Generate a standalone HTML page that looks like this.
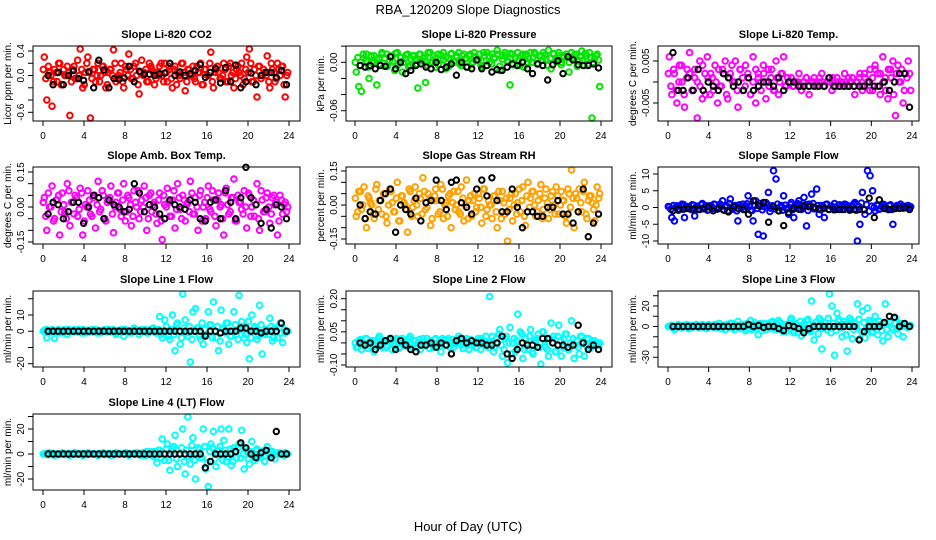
<!DOCTYPE html>
<html><head><meta charset="utf-8">
<style>
html,body{margin:0;padding:0;background:#fff;}
svg{display:block;font-family:"Liberation Sans",Arial,sans-serif;}
</style></head>
<body>
<svg id="chart" width="936" height="540" viewBox="0 0 936 540" xmlns="http://www.w3.org/2000/svg">
<text x="468" y="14" text-anchor="middle" font-size="13">RBA_120209  Slope Diagnostics</text>
<text x="468" y="531" text-anchor="middle" font-size="13">Hour of Day (UTC)</text>
</svg>
<script>
// ---- data (values read/estimated from the reference) ----
const hourTicks = [0,4,8,12,16,20,24];
const titles = ["Slope Li-820 CO2","Slope Li-820 Pressure","Slope Li-820 Temp.","Slope Amb. Box Temp.","Slope Gas Stream RH","Slope Sample Flow","Slope Line 1 Flow","Slope Line 2 Flow","Slope Line 3 Flow","Slope Line 4 (LT) Flow"];
const yTitles = ["Licor ppm per min.","kPa per min.","degrees C  per min.","degrees C per min.","percent per min.","ml/min per min.","ml/min per min.","ml/min per min.","ml/min per min.","ml/min per min."];
const colors = ["#ff0000","#00e600","#ff00ff","#ff00ff","#ffa000","#0000ff","#00ffff","#00ffff","#00ffff","#00ffff"];

const co2Vals = [0.3,-0.4,0.05,-0.5,0.1,-0.1,0.2,-0.15,0.0,0.15,-0.65,0.1,-0.05,0.25,0.45,-0.2,0.05,0.3,-0.75,0.1,-0.1,0.2,0.0,0.15,-0.2,0.05,0.1,0.42,-0.1,0.0,0.2,-0.2,0.1,0.35,-0.05,0.15,0.0,-0.3,0.25,0.05,-0.1,0.2,0.1,-0.15,0.05,0.15,0.0,0.2,-0.1,0.1,-0.2,0.15,0.05,-0.05,0.2,-0.25,0.1,0.0,0.15,-0.1,0.05,0.2,-0.15,0.1,0.0,0.38,-0.2,0.1,0.05,-0.05,0.2,-0.1,0.15,0.0,-0.2,0.1,0.05,0.2,-0.05,0.3,0.45,-0.1,0.1,-0.35,0.15,0.0,0.05,0.32,-0.2,0.1,-0.1,0.2,0.0,0.15,-0.35,0.05];
const co2Core = [0.1,-0.05,0.15,0.0,-0.1,0.05,0.2,-0.15,0.1,0.0,0.05,-0.1,0.15,-0.05,0.0,0.1,-0.15,0.2,0.05,-0.05,0.1,0.0,-0.1,0.15,0.05,-0.15,0.1,0.0,0.2,-0.05,0.05,-0.1,0.15,0.0,0.1,-0.05,0.2,-0.15,0.05,0.0,0.1,-0.1,0.15,0.05,-0.05,0.0,0.2,-0.1,0.05,0.15,-0.05,0.1,-0.15,0.0,0.2,0.05,-0.1,0.1,0.0,-0.05,0.15,0.05,-0.15,0.1,0.0,0.2,-0.1,0.05,0.15,-0.05,0.0,0.1,-0.1,0.2,0.05,-0.05,0.15,0.0,-0.15,0.1,0.05,0.2,-0.1,0.0,0.15,-0.05,0.1,0.0,-0.1,0.2,0.05,-0.05,0.1,0.15,-0.15,0.0];
const co2Black = [0.0,-0.15,0.05,-0.15,0.0,0.08,-0.05,-0.08,0.06,-0.2,0.25,0.09,-0.2,-0.05,-0.06,-0.04,0.15,-0.1,0.07,0.02,0.02,0.0,0.03,0.04,0.2,0.0,0.06,0.0,0.03,0.08,0.18,-0.03,0.05,0.12,-0.12,0.13,-0.1,0.17,-0.2,-0.1,0.04,-0.15,0.0,0.05,0.05,-0.03,0.08,-0.15];

const presVals = [-0.012,-0.03,-0.036,0.005,0.01,-0.02,0.0,0.008,-0.028,0.005,0.012,-0.005,0.01,0.002,0.008,-0.01,0.012,0.0,-0.012,0.005,0.01,-0.004,0.008,0.003,-0.032,0.01,0.005,-0.025,0.012,0.0,0.008,-0.006,0.01,0.004,0.012,-0.008,0.005,0.01,0.0,0.008,0.012,-0.004,0.01,0.005,0.008,-0.002,0.012,0.003,0.01,-0.006,0.008,0.012,0.0,0.01,0.005,0.015,-0.01,0.008,0.012,0.002,-0.028,0.01,0.005,0.012,-0.004,0.01,0.008,0.0,0.012,0.006,0.01,-0.002,0.008,0.012,0.004,0.015,-0.008,0.01,0.005,0.012,0.0,0.008,0.01,-0.012,0.012,0.005,0.01,0.002,0.014,-0.004,0.008,0.012,-0.078,0.005,0.01,-0.03];
const presCore = [0.0,0.006,-0.004,0.01,0.002,-0.006,0.008,0.0,0.004,-0.002,0.01,0.005,-0.005,0.007,0.001,0.011,-0.003,0.006,0.0,0.009,-0.006,0.004,0.008,-0.002,0.01,0.002,0.006,-0.004,0.012,0.0,0.005,-0.003,0.009,0.003,0.007,-0.005,0.011,0.001,0.006,-0.002,0.008,0.004,-0.006,0.01,0.0,0.007,0.003,-0.004,0.012,0.002,0.008,-0.002,0.006,0.01,-0.005,0.004,0.009,0.0,0.011,-0.003,0.006,0.002,0.008,-0.006,0.01,0.004,0.0,0.012,-0.002,0.007,0.003,0.009,-0.004,0.005,0.011,0.001,0.008,-0.003,0.006,0.01,0.0,0.004,0.009,-0.005,0.007,0.002,0.011,-0.002,0.006,0.0,0.008,0.003];
const presBlack = [-0.004,-0.006,-0.004,-0.008,-0.004,-0.005,0.007,-0.008,0.0,-0.014,-0.01,-0.004,-0.002,-0.006,-0.008,0.0,-0.009,-0.006,-0.002,-0.016,0.0,-0.006,-0.008,0.003,-0.008,-0.004,-0.012,-0.009,-0.01,-0.006,-0.002,-0.004,0.0,-0.008,-0.014,-0.002,-0.004,-0.022,-0.003,0.002,-0.014,0.007,0.003,-0.003,-0.004,-0.004,-0.002,-0.007];

const licTempVals = [0.006,-0.003,0.002,-0.005,0.004,0.0,-0.006,0.003,0.007,-0.002,0.001,-0.01,0.005,-0.004,0.002,0.006,-0.003,0.001,0.004,-0.005,-0.001,0.003,0.005,-0.004,0.002,0.0,0.005,-0.006,0.003,-0.002,0.004,0.001,-0.003,0.006,-0.005,0.002,0.0,0.004,-0.004,0.003,0.001,-0.002,0.005,-0.003,0.002,0.006,-0.001,0.0,0.001,-0.001,0.0,0.002,-0.002,0.0,0.001,-0.003,0.0,0.001,-0.001,0.0,0.002,-0.001,0.0,0.001,-0.002,0.0,0.001,-0.001,0.0,0.002,-0.001,0.0,0.001,-0.003,0.0,0.002,-0.002,0.001,0.0,0.003,-0.002,0.004,0.002,-0.003,0.006,0.001,-0.004,0.003,0.005,-0.008,0.004,0.0,-0.005,0.002,0.005,-0.002];
const licTempCore = [0.002,-0.001,0.003,-0.002,0.0,0.004,-0.003,0.001,0.002,-0.002,0.003,0.0,-0.001,0.004,-0.003,0.001,0.002,-0.002,0.0,0.003,-0.001,0.002,-0.003,0.001,0.004,0.0,-0.002,0.003,0.001,-0.001,0.002,-0.003,0.0,0.003,0.001,-0.002,0.002,0.0,-0.001,0.003,-0.002,0.001,0.0,0.002,-0.001,0.001,0.0,-0.001,0.0,0.0,-0.001,0.0,0.001,-0.001,0.0,0.0,-0.001,0.001,0.0,-0.001,0.0,0.0,0.001,-0.001,0.0,0.0,-0.001,0.0,0.001,0.0,-0.001,0.0,0.001,-0.001,0.002,0.0,-0.002,0.001,0.003,-0.001,0.002,0.0,-0.002,0.003,0.001,-0.003,0.002,0.0,0.003,-0.002,0.001,0.002];
const licTempBlack = [0.007,-0.002,-0.002,0.001,-0.002,0.003,-0.002,0.0,-0.001,-0.002,0.002,0.001,-0.001,0.0,-0.002,0.001,-0.002,-0.001,0.0,0.0,-0.001,0.001,-0.002,0.0,0.0,-0.001,-0.001,-0.001,-0.001,-0.001,-0.001,0.001,-0.001,-0.001,-0.001,-0.001,-0.001,-0.001,-0.001,0.0,-0.001,-0.001,0.0,-0.002,0.0,0.002,0.002,-0.006];

const ambVals = [0.04,-0.1,0.0,0.09,-0.05,0.03,-0.12,0.06,-0.02,0.1,-0.08,0.02,0.05,-0.04,0.08,-0.12,0.01,0.07,-0.03,0.04,-0.09,0.11,-0.01,0.05,-0.06,0.03,0.09,-0.11,0.02,0.06,-0.04,0.1,-0.02,0.04,-0.08,0.07,0.0,-0.05,0.03,0.09,-0.1,0.05,-0.02,0.02,-0.07,0.06,-0.14,0.01,0.08,-0.04,0.03,-0.09,0.1,-0.01,0.05,-0.06,0.02,0.11,-0.03,0.04,-0.1,0.07,0.0,-0.05,0.09,-0.02,0.03,-0.08,0.06,0.01,-0.12,0.08,-0.03,0.04,0.12,-0.06,0.02,-0.01,0.07,-0.09,0.05,0.0,-0.04,0.1,-0.1,0.03,-0.02,0.06,-0.07,0.04,0.01,-0.12,0.05,-0.03,0.02,0.0];
const ambCore = [0.02,-0.04,0.06,0.0,-0.06,0.03,0.05,-0.02,0.01,-0.05,0.07,0.02,-0.03,0.04,-0.01,0.06,-0.06,0.0,0.03,-0.04,0.05,0.01,-0.02,0.07,-0.05,0.02,0.04,-0.03,0.0,0.06,-0.01,0.03,-0.06,0.05,0.01,-0.04,0.02,0.07,-0.02,0.0,0.04,-0.05,0.06,0.01,-0.03,0.03,-0.06,0.05,0.0,0.02,-0.04,0.07,-0.01,0.04,-0.05,0.03,0.01,-0.02,0.06,-0.03,0.0,0.05,-0.06,0.02,0.04,-0.01,0.07,-0.04,0.03,0.0,-0.05,0.06,0.01,-0.02,0.04,-0.06,0.05,0.02,-0.03,0.0,0.06,-0.04,0.03,0.01,-0.05,0.07,-0.02,0.04,0.0,-0.03,0.05,0.02,-0.06,0.03,0.01,-0.02];
const ambBlack = [-0.03,0.02,0.01,-0.05,-0.02,0.02,0.02,-0.07,0.0,0.05,0.04,-0.05,0.03,0.01,0.0,-0.02,-0.01,0.1,0.06,-0.02,0.01,0.0,-0.03,-0.05,0.03,0.01,0.0,-0.01,0.03,0.02,-0.05,-0.06,0.02,0.03,-0.05,0.07,0.02,-0.05,0.04,0.17,0.04,0.01,-0.07,-0.01,-0.09,0.01,0.0,-0.05];

const rhVals = [-0.05,0.06,-0.02,0.08,-0.1,0.03,0.0,-0.06,0.09,0.02,-0.04,0.05,-0.08,0.07,0.01,-0.03,0.1,-0.07,0.04,0.0,-0.12,0.06,-0.01,0.08,-0.05,0.03,0.12,-0.02,0.05,-0.09,0.02,0.07,-0.04,0.09,-0.06,0.01,0.04,-0.1,0.06,0.0,-0.03,0.08,-0.07,0.11,0.02,-0.05,0.05,-0.01,0.03,-0.08,0.07,-0.02,0.0,-0.06,0.04,-0.1,0.02,0.06,-0.04,-0.17,0.03,-0.07,0.05,0.01,-0.03,0.08,-0.09,0.1,0.03,0.06,-0.05,0.02,0.09,-0.02,0.07,-0.06,0.04,0.0,0.08,-0.04,0.06,0.02,-0.08,0.05,0.16,-0.1,0.03,0.07,-0.03,0.1,-0.06,0.04,0.01,-0.07,0.08,0.05];
const rhCore = [0.03,-0.03,0.06,0.0,-0.06,0.04,0.01,-0.04,0.07,-0.02,0.02,0.05,-0.05,0.0,0.06,-0.03,0.03,-0.07,0.04,0.01,-0.02,0.07,-0.05,0.02,0.0,0.05,-0.04,0.06,-0.01,0.03,-0.06,0.04,0.02,-0.03,0.07,0.0,-0.05,0.05,0.01,-0.02,0.06,-0.04,0.03,0.0,-0.06,0.04,0.02,-0.03,0.05,-0.01,0.07,-0.05,0.02,0.0,0.04,-0.03,0.06,-0.06,0.01,0.03,-0.02,0.05,0.0,-0.04,0.07,0.02,-0.05,0.04,-0.01,0.06,0.0,-0.03,0.05,-0.06,0.03,0.01,-0.02,0.06,-0.04,0.04,0.0,0.02,-0.05,0.07,-0.01,0.03,0.05,-0.03,0.01,0.06,-0.04,0.02,0.04,-0.02,0.0,0.03];
const rhBlack = [0.0,-0.06,-0.03,-0.04,0.02,0.05,0.07,-0.12,0.0,-0.02,-0.04,0.03,-0.07,0.01,0.02,0.11,0.02,-0.02,0.1,0.11,0.01,-0.01,-0.04,0.07,0.11,0.04,0.12,0.02,-0.03,-0.03,0.07,-0.01,-0.1,-0.03,-0.03,-0.05,-0.05,-0.01,-0.01,0.02,-0.04,-0.04,-0.08,-0.03,0.07,-0.14,-0.08,-0.04];

const sampleVals = [0.2,-3,-4,0.5,-0.5,1,-3,0.3,-0.2,0.8,-2.5,0.4,-0.6,1.2,0.0,-0.8,0.5,-0.3,0.9,-0.4,1,2,0.3,-1,2.5,-0.5,0.6,-4,0.2,1,0.5,3.5,-0.8,-4,2,-8,0.4,-8.5,1.5,4.5,-0.2,11,8.5,-1,0.6,3.5,-0.3,-2,1.5,-3,0.8,2,-0.6,3,-5.5,1,4,-0.4,5.5,-2,0.6,-3,1,-0.5,0.4,1.2,-0.3,0.8,-0.6,1,0.3,-0.8,0.5,1.5,-10,-5,4.5,-2,11,9.5,5,-1,0.6,-0.4,1,0.2,-0.6,0.8,-5,-0.3,0.5,1,-0.2,0.4,0.6,0.2];
const sampleCore = [0.3,-0.5,0.6,0.0,-0.8,0.4,0.9,-0.3,0.1,-0.6,0.7,0.2,-0.4,0.8,-0.1,0.5,-0.7,0.3,1.0,-0.5,0.0,0.6,-0.8,0.4,1.2,-0.2,0.5,-1.0,0.8,0.0,-0.6,1.1,0.3,-0.9,0.6,-0.3,1.2,-0.7,0.2,0.9,-1.2,0.5,-0.4,1.0,0.1,-0.8,0.7,-0.2,0.9,-0.6,0.3,1.1,-0.4,0.0,0.8,-0.9,0.5,1.2,-0.3,0.6,-0.7,0.2,0.9,-0.5,0.4,0.0,-0.6,0.7,0.2,-0.4,0.8,-0.1,0.5,1.0,-0.8,0.3,1.3,-0.6,0.9,-1.1,0.4,0.0,0.7,-0.5,0.3,0.8,-0.3,0.5,-0.6,0.2,0.6,-0.2,0.4,0.0,0.3,-0.1];
const sampleBlack = [-1,-0.5,-0.5,-0.3,-0.5,-0.6,-0.4,0.2,-1,-0.4,-0.7,-1.3,0.3,-0.3,-0.6,-2,2,0.5,1.5,-4.4,0.3,-1,-5.4,-1.5,-0.2,-0.5,0.5,0.2,0.1,-0.3,-0.2,-0.6,-0.7,-0.6,-0.6,-0.5,-0.6,-0.6,-0.7,2.8,-3,2.3,-0.3,-0.6,-0.3,-0.2,-0.1,-0.6];

const line1Vals = [0.5,-4,0,1,-4.5,0.5,-1,0,1,-2,0.5,0,1,-0.5,0,1,-1,0.5,0,-0.5,1,0,-1,0.5,0,1,-0.5,0.5,-2,0,1,-3,0.5,0,-1,2,0,-2,1,0.5,-1,0,1.5,0,-0.5,9,-4,7,0,-5,10,-12,5,-8,23,7,-3,-19,12,14,2,-5,-8,-2,12,4,18,-4,-12,13,1,5,-8,-3,12,-2,22,6,-4,-7,-17,10,3,-5,16,-14,-2,0,8,-6,2,-4,5,-7,-1,0];
const line1Core = [0,1,-1,0.5,0,-0.5,1,0,-1,0.5,1,0,-0.5,0,1,-1,0,0.5,-0.5,1,0,-1,0.5,0,1,-0.5,0,1,-1,0.5,0,-0.5,1,0,-1,0.5,1,0,-0.5,0,1,-1,0,2,-1,1,-2,0,3,-3,1,-2,4,0,-4,2,-1,3,-5,0,2,-3,5,1,-2,4,-4,0,3,-6,2,-1,5,-3,0,4,-5,1,3,-2,6,-4,0,2,-3,4,-1,1,-2,3,-4,0,2,-1,1,0];
const line1Black = [0,0,0,0,0,0,0,0,0,0,0,0,0,0,0,0,0,0,0,0,0,0,0,0,0,0,0,0,0,0,0,-3,0,0,-1,0,0,0,2,2,0,0,-1,0,0,0,5,0];

const line2Vals = [-0.02,0.01,-0.03,0.0,0.02,-0.01,0.01,-0.04,0.0,0.03,-0.02,0.01,-0.01,0.02,-0.03,0.0,0.01,-0.02,0.02,0.0,-0.01,0.03,-0.02,0.01,0.0,-0.03,0.02,-0.01,0.0,0.01,-0.02,0.02,0.0,-0.04,0.01,-0.01,0.02,0.0,-0.02,0.01,0.03,-0.01,0.0,0.02,-0.03,0.01,0.0,-0.02,0.01,0.02,-0.01,0.0,0.21,0.03,-0.02,0.0,0.06,-0.06,0.02,-0.09,0.07,0.0,-0.04,0.13,0.05,-0.07,0.02,-0.03,0.06,-0.05,0.01,0.04,-0.1,0.05,-0.02,-0.06,0.09,0.03,-0.04,0.08,-0.06,0.02,0.04,-0.03,0.1,-0.07,0.01,-0.05,0.03,-0.06,0.02,-0.02,0.0,0.01,-0.01,0.0];
const line2Core = [0.0,-0.02,0.015,-0.01,0.02,-0.025,0.005,0.01,-0.015,0.02,-0.005,0.0,-0.02,0.015,0.005,-0.01,0.02,-0.025,0.01,0.0,-0.015,0.02,-0.005,0.01,-0.02,0.015,0.0,-0.01,0.02,-0.025,0.005,0.015,-0.015,0.0,0.02,-0.01,0.01,-0.02,0.015,-0.005,0.0,0.02,-0.025,0.01,-0.01,0.015,0.0,-0.02,0.02,-0.03,0.01,0.03,-0.02,0.0,-0.04,0.02,0.04,-0.01,-0.03,0.03,0.0,-0.05,0.02,0.01,-0.02,0.04,-0.03,0.0,0.03,-0.04,0.01,0.02,-0.02,0.05,-0.01,-0.03,0.02,0.0,-0.04,0.03,0.01,-0.02,0.04,-0.03,0.0,0.02,-0.01,-0.02,0.03,0.0,-0.01,0.02,-0.02,0.01,0.0,-0.01];
const line2Black = [0.0,-0.01,0.0,-0.03,-0.01,0.01,0.02,-0.03,0.01,-0.01,-0.03,-0.04,-0.01,-0.01,0.0,-0.02,0.0,-0.01,-0.05,0.01,0.02,0.0,0.01,0.0,0.0,-0.01,-0.01,0.0,0.03,-0.05,-0.07,-0.03,0.0,-0.01,-0.01,-0.02,0.02,0.02,0.0,-0.01,-0.01,-0.02,-0.01,0.08,0.0,-0.03,-0.01,-0.03];

const line3Vals = [0,1,-3,0,1,-1,0,2,-2,0,1,0,-1,2,0,-1,1,0,2,-1,0,1,-3,0,3,-1,0,5,-2,1,-4,0,6,-2,1,-8,3,0,-3,2,4,-1,0,6,-2,0,-5,1,8,-6,2,0,-9,3,6,-4,25,-13,0,8,-22,4,-3,36,20,-28,13,5,-10,2,-24,8,-12,3,22,-12,15,-11,18,4,-5,10,-8,2,-14,22,-10,5,-3,8,-7,3,-10,2,0,1];
const line3Core = [0,1,-1,0,2,-1,1,0,-2,1,0,2,-1,0,1,-2,2,0,-1,1,3,-2,0,2,-1,3,-3,1,0,2,-2,3,0,-3,4,-1,2,-4,3,0,-2,5,-3,1,4,-5,2,0,6,-4,3,-6,5,0,-3,7,-5,2,4,-7,6,-2,0,8,-6,3,-4,7,-1,5,-8,2,6,-3,0,7,-5,4,-2,6,-6,3,0,5,-4,2,-3,4,-1,3,-2,2,0,1,-1,0];
const line3Black = [0,0,0,0,0,0,0,0,0,0,0,0,0,0,0,2,0,1,-1,0,0,-2,-4,1,0,-2,-6,-2,0,0,0,0,0,0,0,0,0,-13,-5,0,0,0,4,10,9,0,3,0];

const line4Vals = [0,0,1,0,-1,0,0,1,0,0,-1,0,1,0,0,-1,0,1,0,0,0,-1,0,1,0,0,-1,0,1,0,0,0,1,-1,0,0,1,0,-1,0,2,0,-1,2,-7,3,12,-5,8,-13,4,15,-10,0,20,-16,30,-8,13,-20,5,-3,20,-12,-26,8,18,-10,3,20,11,-6,20,-9,5,-3,8,19,-12,2,-8,10,-5,4,-3,2,-6,6,-1,2,-4,1,0,0,1,0];
const line4Core = [0,0.5,-0.5,0,0.5,0,-0.5,0,0.5,-0.5,0,0.5,0,-0.5,0,0.5,0,-0.5,0.5,0,0,-0.5,0.5,0,-0.5,0,0.5,0,-0.5,0.5,0,0,0.5,-0.5,0,0.5,0,-0.5,0,1,-1,0,2,-2,1,3,-3,0,4,-5,2,6,-4,0,5,-6,3,-2,7,-5,0,4,-3,6,-7,2,5,-4,0,6,-5,3,-2,4,-6,1,5,-3,0,4,-4,2,-1,3,-3,1,2,-2,0,1,-1,0,1,0,-1,0];
const line4Black = [0,0,0,0,0,0,0,0,0,0,0,0,0,0,0,0,0,0,0,0,0,0,0,0,0,0,0,0,0,0,0,-11,-6,0,0,0,0,2,9,5,0,-3,1,3,-3,18,0,0];

// ticks
const yTicks = [[0.4,0.2,0,-0.2,-0.4,-0.6],[0.02,0,-0.02,-0.04,-0.06],[0.005,0,-0.005],[0.15,0.1,0.05,0,-0.05,-0.1,-0.15],[0.15,0.1,0.05,0,-0.05,-0.1,-0.15],[10,5,0,-5,-10],[20,10,0,-10,-20],[0.2,0.15,0.1,0.05,0,-0.05,-0.1],[30,20,10,0,-10,-20,-30],[30,20,10,0,-10,-20]];
const yTickLabels = [["0.4","","0.0","","","-0.6"],["","0.00","","","-0.06"],["0.005","","-0.005"],["0.15","","","0.00","","","-0.15"],["0.15","","","0.00","","","-0.15"],["10","5","0","-5","-10"],["","10","0","","-20"],["0.20","","","0.05","","","-0.10"],["","20","","0","","","-30"],["","20","","0","","-20"]];

const colorVals = [co2Vals,presVals,licTempVals,ambVals,rhVals,sampleVals,line1Vals,line2Vals,line3Vals,line4Vals];
const coreVals = [co2Core,presCore,licTempCore,ambCore,rhCore,sampleCore,line1Core,line2Core,line3Core,line4Core];
const blackVals = [co2Black,presBlack,licTempBlack,ambBlack,rhBlack,sampleBlack,line1Black,line2Black,line3Black,line4Black];

// ---- layout ----
const cols = [{x0:33,x1:300,h0:43,h24:289},{x0:346,x1:612,h0:355,h24:601},{x0:658,x1:919,h0:668,h24:912}];
const rows = [{y0:46,y1:121},{y0:167,y1:244},{y0:291,y1:367},{y0:414,y1:490}];
const yCal = [[0.4,51,-0.6,112.3],[0,62.3,-0.06,110.7],[0.005,61,-0.005,103],[0.15,172,-0.15,242],[0.15,171,-0.15,239],[10,174,-10,241],[10,315,-20,363.7],[0.2,298.7,-0.1,365],[20,306,-30,357.3],[20,429,-20,479]];

const NS = "http://www.w3.org/2000/svg";
const svg = document.getElementById('chart');
function mk(tag, attrs, parent){ const e=document.createElementNS(NS,tag); for(const k in attrs) e.setAttribute(k,attrs[k]); (parent||svg).appendChild(e); return e; }

for(let p=0;p<10;p++){
  const c = cols[p%3], r = rows[Math.floor(p/3)];
  const g = mk('g',{});
  
  
  const xS = h => c.h0 + (h/24)*(c.h24-c.h0);
  const cal = yCal[p];
  const yS = v => cal[1] + (v-cal[0])*(cal[3]-cal[1])/(cal[2]-cal[0]);
  const cx = (c.x0+c.x1)/2;
  const t = mk('text',{x:cx,y:r.y0-8,'text-anchor':'middle','font-size':11,'font-weight':'bold'},g);
  t.textContent = titles[p];
  
  
  const pts = mk('g',{fill:'none',stroke:colors[p],'stroke-width':2},g);
  
  
  const cv = colorVals[p];
  cv.forEach((v,i)=>{
    const h = (i+0.5)*24/cv.length;
    const y = Math.max(r.y0+3, Math.min(r.y1-3, yS(v)));
    const ci = mk('circle',{cx:xS(h).toFixed(1),cy:y.toFixed(1),r:2.8},pts);
    
    
  });
  const kv = coreVals[p];
  kv.forEach((v,i)=>{
    const h = (i+0.1)*24/kv.length;
    const y = Math.max(r.y0+3, Math.min(r.y1-3, yS(v)));
    const ci = mk('circle',{cx:xS(h).toFixed(1),cy:y.toFixed(1),r:2.8},pts);
    
    
  });
  const bv = blackVals[p];
  const bpts = mk('g',{fill:'none',stroke:'#000','stroke-width':2},g);
  
  
  bv.forEach((v,i)=>{
    const h = (i+1)*24/(bv.length+0.5);
    const ci = mk('circle',{cx:xS(h).toFixed(1),cy:yS(v).toFixed(1),r:2.7},bpts);
    
    
  });
  const box = mk('rect',{x:c.x0,y:r.y0,width:c.x1-c.x0,height:r.y1-r.y0,fill:'none',stroke:'#000','stroke-width':1},g);
  
  
  hourTicks.forEach(h=>{
    mk('line',{x1:xS(h),x2:xS(h),y1:r.y1,y2:r.y1+5,stroke:'#000'},g);
    const tl = mk('text',{x:xS(h),y:r.y1+18,'text-anchor':'middle','font-size':10},g);
    tl.textContent = h;
    
    
  });
  yTicks[p].forEach((v,i)=>{
    const y = yS(v);
    mk('line',{x1:c.x0-5,x2:c.x0,y1:y,y2:y,stroke:'#000'},g);
    const lab = yTickLabels[p][i];
    if(lab){
      const tl = mk('text',{x:0,y:0,'text-anchor':'middle','font-size':10,transform:`translate(${c.x0-9},${y}) rotate(-90)`},g);
      tl.textContent = lab;
      
      
    }
  });
  const yt = mk('text',{x:0,y:0,'text-anchor':'middle','font-size':10,transform:`translate(${c.x0-22},${(r.y0+r.y1)/2}) rotate(-90)`},g);
  yt.textContent = yTitles[p];
  
  
}
</script>
</body></html>
